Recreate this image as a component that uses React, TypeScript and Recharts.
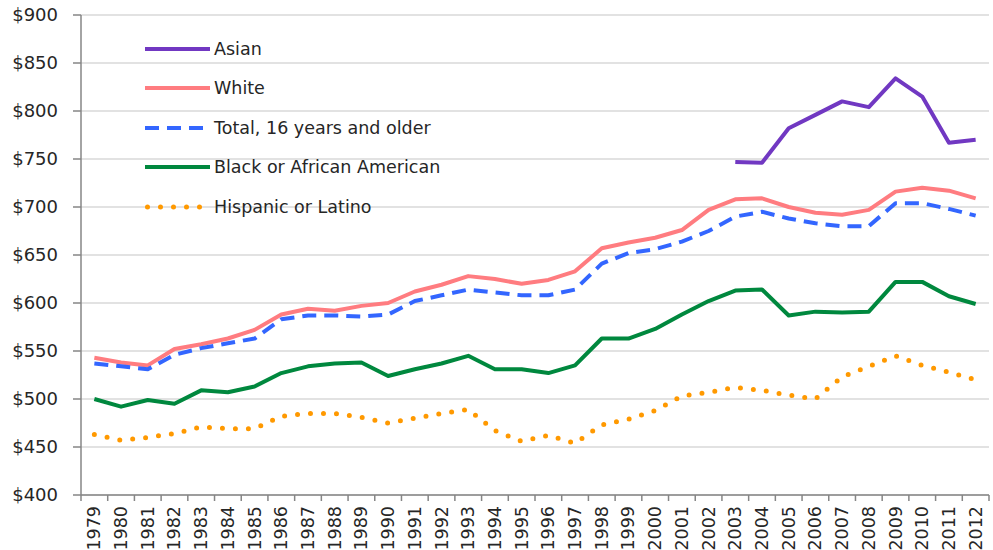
import React from "react";
import { CartesianGrid, Line, LineChart, XAxis, YAxis } from "recharts";

const years = [
  1979, 1980, 1981, 1982, 1983, 1984, 1985, 1986, 1987, 1988, 1989, 1990, 1991, 1992, 1993, 1994, 1995,
  1996, 1997, 1998, 1999, 2000, 2001, 2002, 2003, 2004, 2005, 2006, 2007, 2008, 2009, 2010, 2011, 2012,
];

// Asian only reported from 2003
const asian = [
  null, null, null, null, null, null, null, null, null, null, null, null, null, null, null, null, null,
  null, null, null, null, null, null, null, 747, 746, 782, 796, 810, 804, 834, 815, 767, 770,
];
const white = [
  543, 538, 535, 552, 557, 563, 572, 588, 594, 592, 597, 600, 612, 619, 628, 625, 620,
  624, 633, 657, 663, 668, 676, 697, 708, 709, 700, 694, 692, 697, 716, 720, 717, 709,
];
const total = [
  537, 534, 531, 546, 553, 558, 563, 583, 587, 587, 586, 588, 602, 608, 614, 611, 608,
  608, 614, 641, 652, 656, 664, 675, 690, 695, 688, 683, 680, 680, 704, 704, 698, 691,
];
const black = [
  500, 492, 499, 495, 509, 507, 513, 527, 534, 537, 538, 524, 531, 537, 545, 531, 531,
  527, 535, 563, 563, 573, 588, 602, 613, 614, 587, 591, 590, 591, 622, 622, 607, 599,
];
const hispanic = [
  463, 457, 460, 464, 471, 469, 469, 482, 485, 485, 481, 475, 480, 485, 489, 467, 456,
  462, 454, 473, 479, 488, 503, 507, 512, 509, 504, 500, 523, 534, 545, 535, 528, 520,
];

const yTicks = [400, 450, 500, 550, 600, 650, 700, 750, 800, 850, 900];

const data = years.map((year, i) => ({
  year,
  asian: asian[i],
  white: white[i],
  total: total[i],
  black: black[i],
  hispanic: hispanic[i],
}));

const FONT = "'DejaVu Sans', Verdana, sans-serif";
const TEXT = "#262626";
const AXIS = "#868686";
const W = 993;
const H = 550;
const M = { top: 15, right: 4, bottom: 0, left: 0 };
const Y_W = 81;
const STEP = (W - M.left - M.right - Y_W) / years.length;

interface Series {
  key: string;
  label: string;
  color: string;
  width: number;
  dash?: string;
  cap?: "round" | "butt";
}

const series: Series[] = [
  { key: "asian", label: "Asian", color: "#7138c2", width: 4 },
  { key: "white", label: "White", color: "#ff7c80", width: 4 },
  { key: "total", label: "Total, 16 years and older", color: "#3366ff", width: 4, dash: "14 8" },
  { key: "black", label: "Black or African American", color: "#00883e", width: 4 },
  { key: "hispanic", label: "Hispanic or Latino", color: "#ff9900", width: 5, dash: "0 13", cap: "round" },
];

function YearTick(props: any) {
  const { x, y, payload, index } = props;
  const axisY = y - 8;
  const last = index === years.length - 1;
  return (
    <g>
      <line x1={x - STEP / 2} y1={axisY} x2={x - STEP / 2} y2={axisY + 6} stroke={AXIS} strokeWidth={1.5} />
      {last && (
        <line x1={x + STEP / 2} y1={axisY} x2={x + STEP / 2} y2={axisY + 6} stroke={AXIS} strokeWidth={1.5} />
      )}
      <text
        x={x + 6}
        y={axisY + 11}
        transform={`rotate(-90 ${x + 6} ${axisY + 11})`}
        textAnchor="end"
        fontSize={17.5}
        fontFamily={FONT}
        fill={TEXT}
      >
        {payload.value}
      </text>
    </g>
  );
}

function ChartLegend() {
  return (
    <div
      style={{
        position: "absolute",
        left: 145,
        top: 29,
        fontFamily: FONT,
        fontSize: 17.5,
        color: TEXT,
        pointerEvents: "none",
      }}
    >
      {series.map((s) => (
        <div key={s.key} style={{ display: "flex", alignItems: "center", height: 39.5 }}>
          <svg width={69} height={10}>
            <line
              x1={s.cap ? 2.5 : 0}
              y1={5}
              x2={65}
              y2={5}
              stroke={s.color}
              strokeWidth={s.width}
              strokeDasharray={s.dash}
              strokeLinecap={s.cap ?? "butt"}
            />
          </svg>
          <span style={{ whiteSpace: "nowrap" }}>{s.label}</span>
        </div>
      ))}
    </div>
  );
}

export default function App() {
  return (
    <div style={{ position: "absolute", left: 0, top: 0, width: W, height: H, background: "#fff" }}>
      <LineChart width={W} height={H} data={data} margin={M}>
        <CartesianGrid stroke="#d9d9d9" strokeWidth={1.5} vertical={false} />
        <XAxis
          dataKey="year"
          scale="band"
          interval={0}
          height={55}
          tickLine={false}
          axisLine={{ stroke: AXIS, strokeWidth: 1.5 }}
          tick={<YearTick />}
        />
        <YAxis
          width={Y_W}
          domain={[400, 900]}
          ticks={yTicks}
          tickFormatter={(v: number) => `$${v}`}
          tickSize={8}
          tickMargin={15}
          tickLine={{ stroke: AXIS, strokeWidth: 1.5 }}
          axisLine={{ stroke: AXIS, strokeWidth: 1.5 }}
          tick={{ fill: TEXT, fontSize: 18, fontFamily: FONT }}
        />
        {series.map((s) => (
          <Line
            key={s.key}
            type="linear"
            dataKey={s.key}
            stroke={s.color}
            strokeWidth={s.width}
            strokeDasharray={s.dash}
            strokeLinecap={s.cap ?? "butt"}
            strokeLinejoin="round"
            dot={false}
            activeDot={false}
            connectNulls={false}
            isAnimationActive={false}
          />
        ))}
      </LineChart>
      <ChartLegend />
    </div>
  );
}
